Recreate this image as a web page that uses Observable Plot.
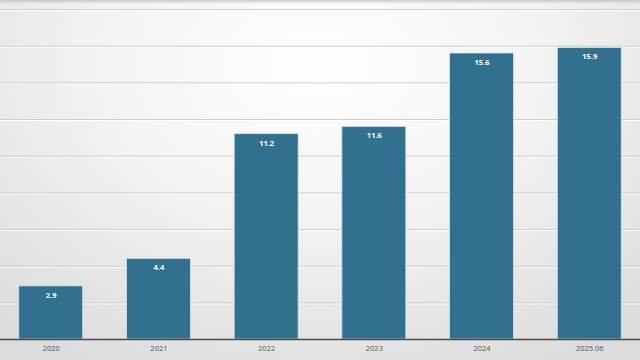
<!DOCTYPE html>
<html>
<head>
<meta charset="utf-8">
<script src="https://cdn.jsdelivr.net/npm/d3@7"></script>
<script src="https://cdn.jsdelivr.net/npm/@observablehq/plot@0.6"></script>
<style>
  html, body { margin: 0; padding: 0; width: 640px; height: 360px; overflow: hidden; }
  body {
    background:
      linear-gradient(to bottom, rgba(190,190,190,0.8) 0px, rgba(220,220,220,0) 4px),
      radial-gradient(ellipse 75% 95% at 50% 18%, #ffffff 0%, #f3f3f3 45%, #dcdcdc 100%);
  }
  #chart svg { display: block; background: transparent; }
</style>
</head>
<body>
<div id="chart"></div>
<script>
const categories = ["2020", "2021", "2022", "2023", "2024", "2025.06"];
const values = [2.9, 4.4, 11.2, 11.6, 15.6, 15.9];
const gridTicks = [2, 4, 6, 8, 10, 12, 14, 16, 18];

const data = categories.map((c, i) => ({ cat: c, value: values[i] }));

const chart = Plot.plot({
  width: 640,
  height: 360,
  marginLeft: 0,
  marginRight: 0,
  marginTop: 9,
  marginBottom: 21,
  style: { background: "transparent", fontFamily: "'Open Sans', sans-serif" },
  x: { domain: categories, round: false, paddingInner: 0.406, paddingOuter: 0.174, label: null, tickSize: 0, tickPadding: 5 },
  y: { domain: [0, 18], axis: null },
  marks: [
    Plot.ruleY(gridTicks, { stroke: "#ffffff", strokeWidth: 1, dy: 1 }),
    Plot.ruleY(gridTicks, { stroke: "#cdcdcd", strokeWidth: 1 }),
    Plot.barY(data, { x: "cat", y: "value", fill: "#31708e", stroke: "#d6e6ee", strokeWidth: 0.8 }),
    Plot.ruleY([0], { stroke: "#4a4a4a", strokeWidth: 1.5 }),
    Plot.text(data, { x: "cat", y: "value", text: d => d.value.toFixed(1), dy: 9, fill: "white", fontWeight: "bold", fontSize: 7.5 }),
    Plot.axisX({ tickSize: 0, tickPadding: 6, fontSize: 7.5, color: "#555", label: null })
  ]
});
document.getElementById("chart").appendChild(chart);
</script>
</body>
</html>
